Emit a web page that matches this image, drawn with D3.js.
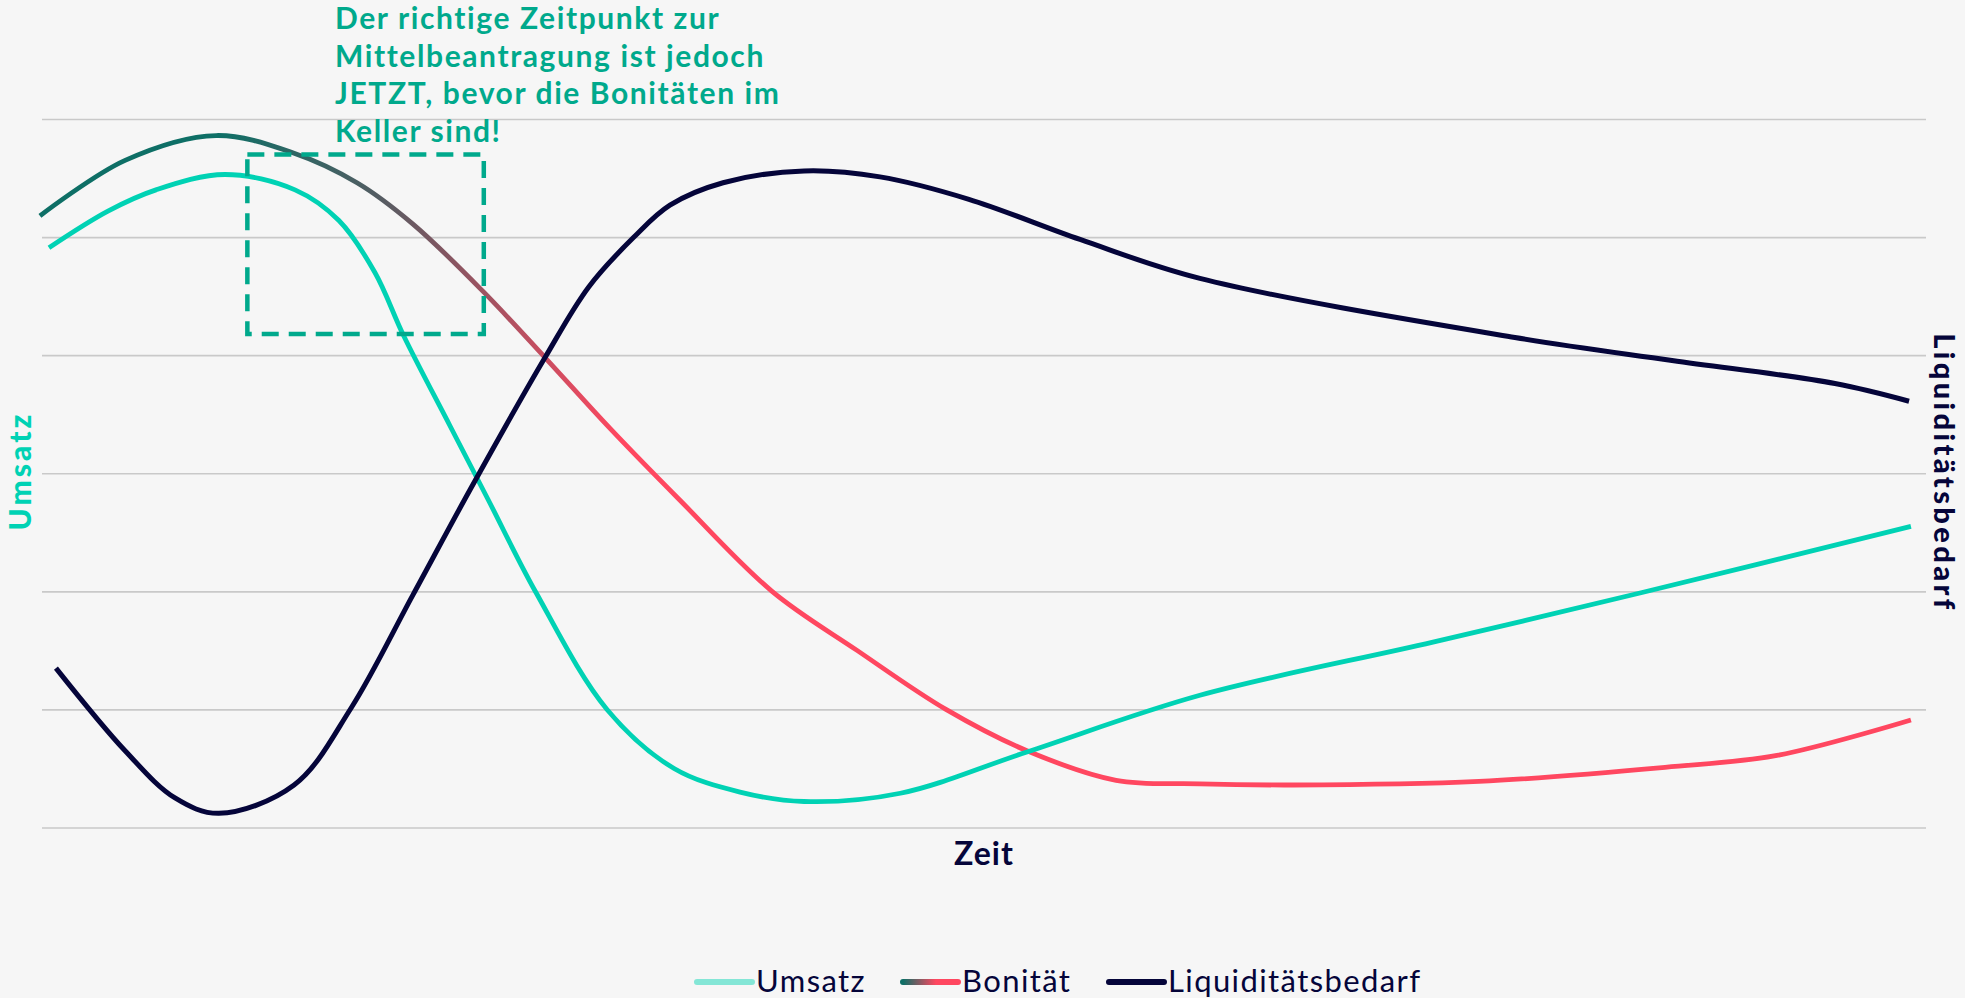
<!DOCTYPE html>
<html>
<head>
<meta charset="utf-8">
<script src="https://cdnjs.cloudflare.com/ajax/libs/d3/7.8.5/d3.min.js"></script>
<style>
  html, body { margin: 0; padding: 0; background: #f6f6f6; }
  svg { display: block; }
  text { font-family: Lato, "Open Sans", sans-serif; }
</style>
</head>
<body>
<div id="chart"></div>
<script>
// values: time 0..100, level 0..6
var umsatzZeit = [0.37, 3.5, 6.05, 9.71, 13.43, 15.76, 17.67, 19.21, 21.66, 23.67, 26.22, 29.99, 33.55, 37.05, 40.45, 45.56, 52.28, 61.46, 73.83, 84.93, 99.2];
var umsatzWert = [4.91, 5.22, 5.40, 5.53, 5.40, 5.14, 4.70, 4.16, 3.40, 2.78, 1.99, 1.00, 0.50, 0.30, 0.22, 0.29, 0.64, 1.12, 1.57, 1.99, 2.55];

var bonitaetZeit = [-0.11, 4.41, 9.24, 13.38, 16.72, 19.69, 23.41, 26.70, 30.15, 33.81, 38.75, 43.26, 47.98, 52.28, 57.01, 61.46, 66.4, 76.27, 86.15, 92.09, 99.2];
var bonitaetWert = [5.18, 5.65, 5.86, 5.71, 5.46, 5.11, 4.54, 3.98, 3.38, 2.78, 2.00, 1.50, 1.00, 0.65, 0.40, 0.37, 0.36, 0.39, 0.51, 0.61, 0.91];

var liquiZeit = [0.74, 4.41, 7.06, 9.39, 13.38, 16.40, 19.69, 22.72, 26.70, 29.03, 31.42, 33.33, 36.15, 40.45, 44.48, 49.2, 55.10, 61.46, 78.18, 86.52, 95.17, 99.1];
var liquiWert = [1.35, 0.65, 0.25, 0.12, 0.36, 1.01, 1.97, 2.86, 3.98, 4.58, 5.00, 5.27, 5.46, 5.56, 5.51, 5.32, 4.98, 4.65, 4.15, 3.955, 3.76, 3.61];

var gridWerte = [0, 1, 2, 3, 4, 5, 6];

// highlighted window (annotation box)
var fensterZeit = [10.9, 23.45];
var fensterWert = [4.18, 5.70];

var hinweis = ["Der richtige Zeitpunkt zur", "Mittelbeantragung ist jedoch", "JETZT, bevor die Bonitäten im", "Keller sind!"];

var totalW = 1965, totalH = 998;
var margin = {top: 119, right: 39, bottom: 170.5, left: 42};
var width = totalW - margin.left - margin.right;
var height = totalH - margin.top - margin.bottom;

var svg = d3.select("#chart").append("svg")
    .attr("width", totalW)
    .attr("height", totalH);

svg.append("rect").attr("width", totalW).attr("height", totalH).attr("fill", "#f6f6f6");

var defs = svg.append("defs");

var g = svg.append("g")
    .attr("transform", "translate(" + margin.left + "," + margin.top + ")");

var x = d3.scaleLinear().domain([0, 100]).range([0, width]);
var y = d3.scaleLinear().domain([0, 6]).range([height, 0]);

// gridlines
var yAxis = d3.axisLeft(y).tickValues(gridWerte).tickSize(-width).tickFormat("");
g.append("g")
  .call(yAxis)
  .call(function(s) { s.select(".domain").remove(); })
  .selectAll("line")
    .attr("stroke", "#c9c9c9")
    .attr("stroke-width", 1.6);

// gradient for Bonität
var grad = defs.append("linearGradient")
    .attr("id", "bonGrad")
    .attr("gradientUnits", "userSpaceOnUse")
    .attr("x1", x(9.4)).attr("y1", 0)
    .attr("x2", x(30.7)).attr("y2", 0);
grad.append("stop").attr("offset", "0%").attr("stop-color", "#0e6f66");
grad.append("stop").attr("offset", "40%").attr("stop-color", "#545c62");
grad.append("stop").attr("offset", "100%").attr("stop-color", "#ff4760");

var legGrad = defs.append("linearGradient")
    .attr("id", "legGrad")
    .attr("x1", "0%").attr("x2", "100%");
legGrad.append("stop").attr("offset", "0%").attr("stop-color", "#0e6f66");
legGrad.append("stop").attr("offset", "60%").attr("stop-color", "#ff4760");
legGrad.append("stop").attr("offset", "100%").attr("stop-color", "#ff4760");

function zip(xs, ys) { return xs.map(function(d, i) { return [d, ys[i]]; }); }

var line = d3.line()
  .x(function(d) { return x(d[0]); })
  .y(function(d) { return y(d[1]); })
  .curve(d3.curveCatmullRom.alpha(0.5));

g.append("path")
  .attr("d", line(zip(bonitaetZeit, bonitaetWert)))
  .attr("fill", "none")
  .attr("stroke", "url(#bonGrad)")
  .attr("stroke-width", 4.8);

g.append("path")
  .attr("d", line(zip(umsatzZeit, umsatzWert)))
  .attr("fill", "none")
  .attr("stroke", "#00d2b4")
  .attr("stroke-width", 4.8);

g.append("path")
  .attr("d", line(zip(liquiZeit, liquiWert)))
  .attr("fill", "none")
  .attr("stroke", "#05053a")
  .attr("stroke-width", 5);

// dashed window
g.append("rect")
  .attr("x", x(fensterZeit[0]))
  .attr("y", y(fensterWert[1]))
  .attr("width", x(fensterZeit[1]) - x(fensterZeit[0]))
  .attr("height", y(fensterWert[0]) - y(fensterWert[1]))
  .attr("fill", "none")
  .attr("stroke", "#00a98c")
  .attr("stroke-width", 4.5)
  .attr("stroke-dasharray", "17,10");

// annotation text
svg.append("g").selectAll("text").data(hinweis)
  .enter().append("text")
    .attr("x", 335)
    .attr("y", function(d, i) { return 29 + i * 37.6; })
    .attr("fill", "#00a98c")
    .style("font-size", "30px")
    .style("font-weight", "bold")
    .style("letter-spacing", "1.6px")
    .text(function(d) { return d; });

// axis titles
svg.append("text")
  .attr("transform", "translate(31," + 471 + ") rotate(-90)")
  .attr("text-anchor", "middle")
  .attr("fill", "#00d2b4")
  .style("font-size", "30px")
  .style("font-weight", "900")
  .style("letter-spacing", "3px")
  .text("Umsatz");

svg.append("text")
  .attr("transform", "translate(1934," + 473 + ") rotate(90)")
  .attr("text-anchor", "middle")
  .attr("fill", "#05053a")
  .style("font-size", "29px")
  .style("font-weight", "900")
  .style("letter-spacing", "3.4px")
  .text("Liquiditätsbedarf");

svg.append("text")
  .attr("x", 984)
  .attr("y", 865)
  .attr("text-anchor", "middle")
  .attr("fill", "#05053a")
  .style("font-size", "32px")
  .style("font-weight", "bold")
  .style("letter-spacing", "1px")
  .text("Zeit");

// legend
var legende = [
  {name: "Umsatz", stroke: "#84e6d6", x: 697},
  {name: "Bonität", stroke: "url(#legGrad)", x: 903},
  {name: "Liquiditätsbedarf", stroke: "#05053a", x: 1109}
];
var leg = svg.append("g").selectAll("g").data(legende)
  .enter().append("g")
    .attr("transform", function(d) { return "translate(" + d.x + ",982)"; });
leg.append("line")
  .attr("x1", 0).attr("x2", 55)
  .attr("y1", 0).attr("y2", 0.01)
  .attr("stroke", function(d) { return d.stroke; })
  .attr("stroke-width", 6)
  .attr("stroke-linecap", "round");
leg.append("text")
  .attr("x", 59)
  .attr("y", 10)
  .attr("fill", "#05053a")
  .style("font-size", "31px")
  .style("letter-spacing", "1.4px")
  .text(function(d) { return d.name; });
</script>
</body>
</html>
